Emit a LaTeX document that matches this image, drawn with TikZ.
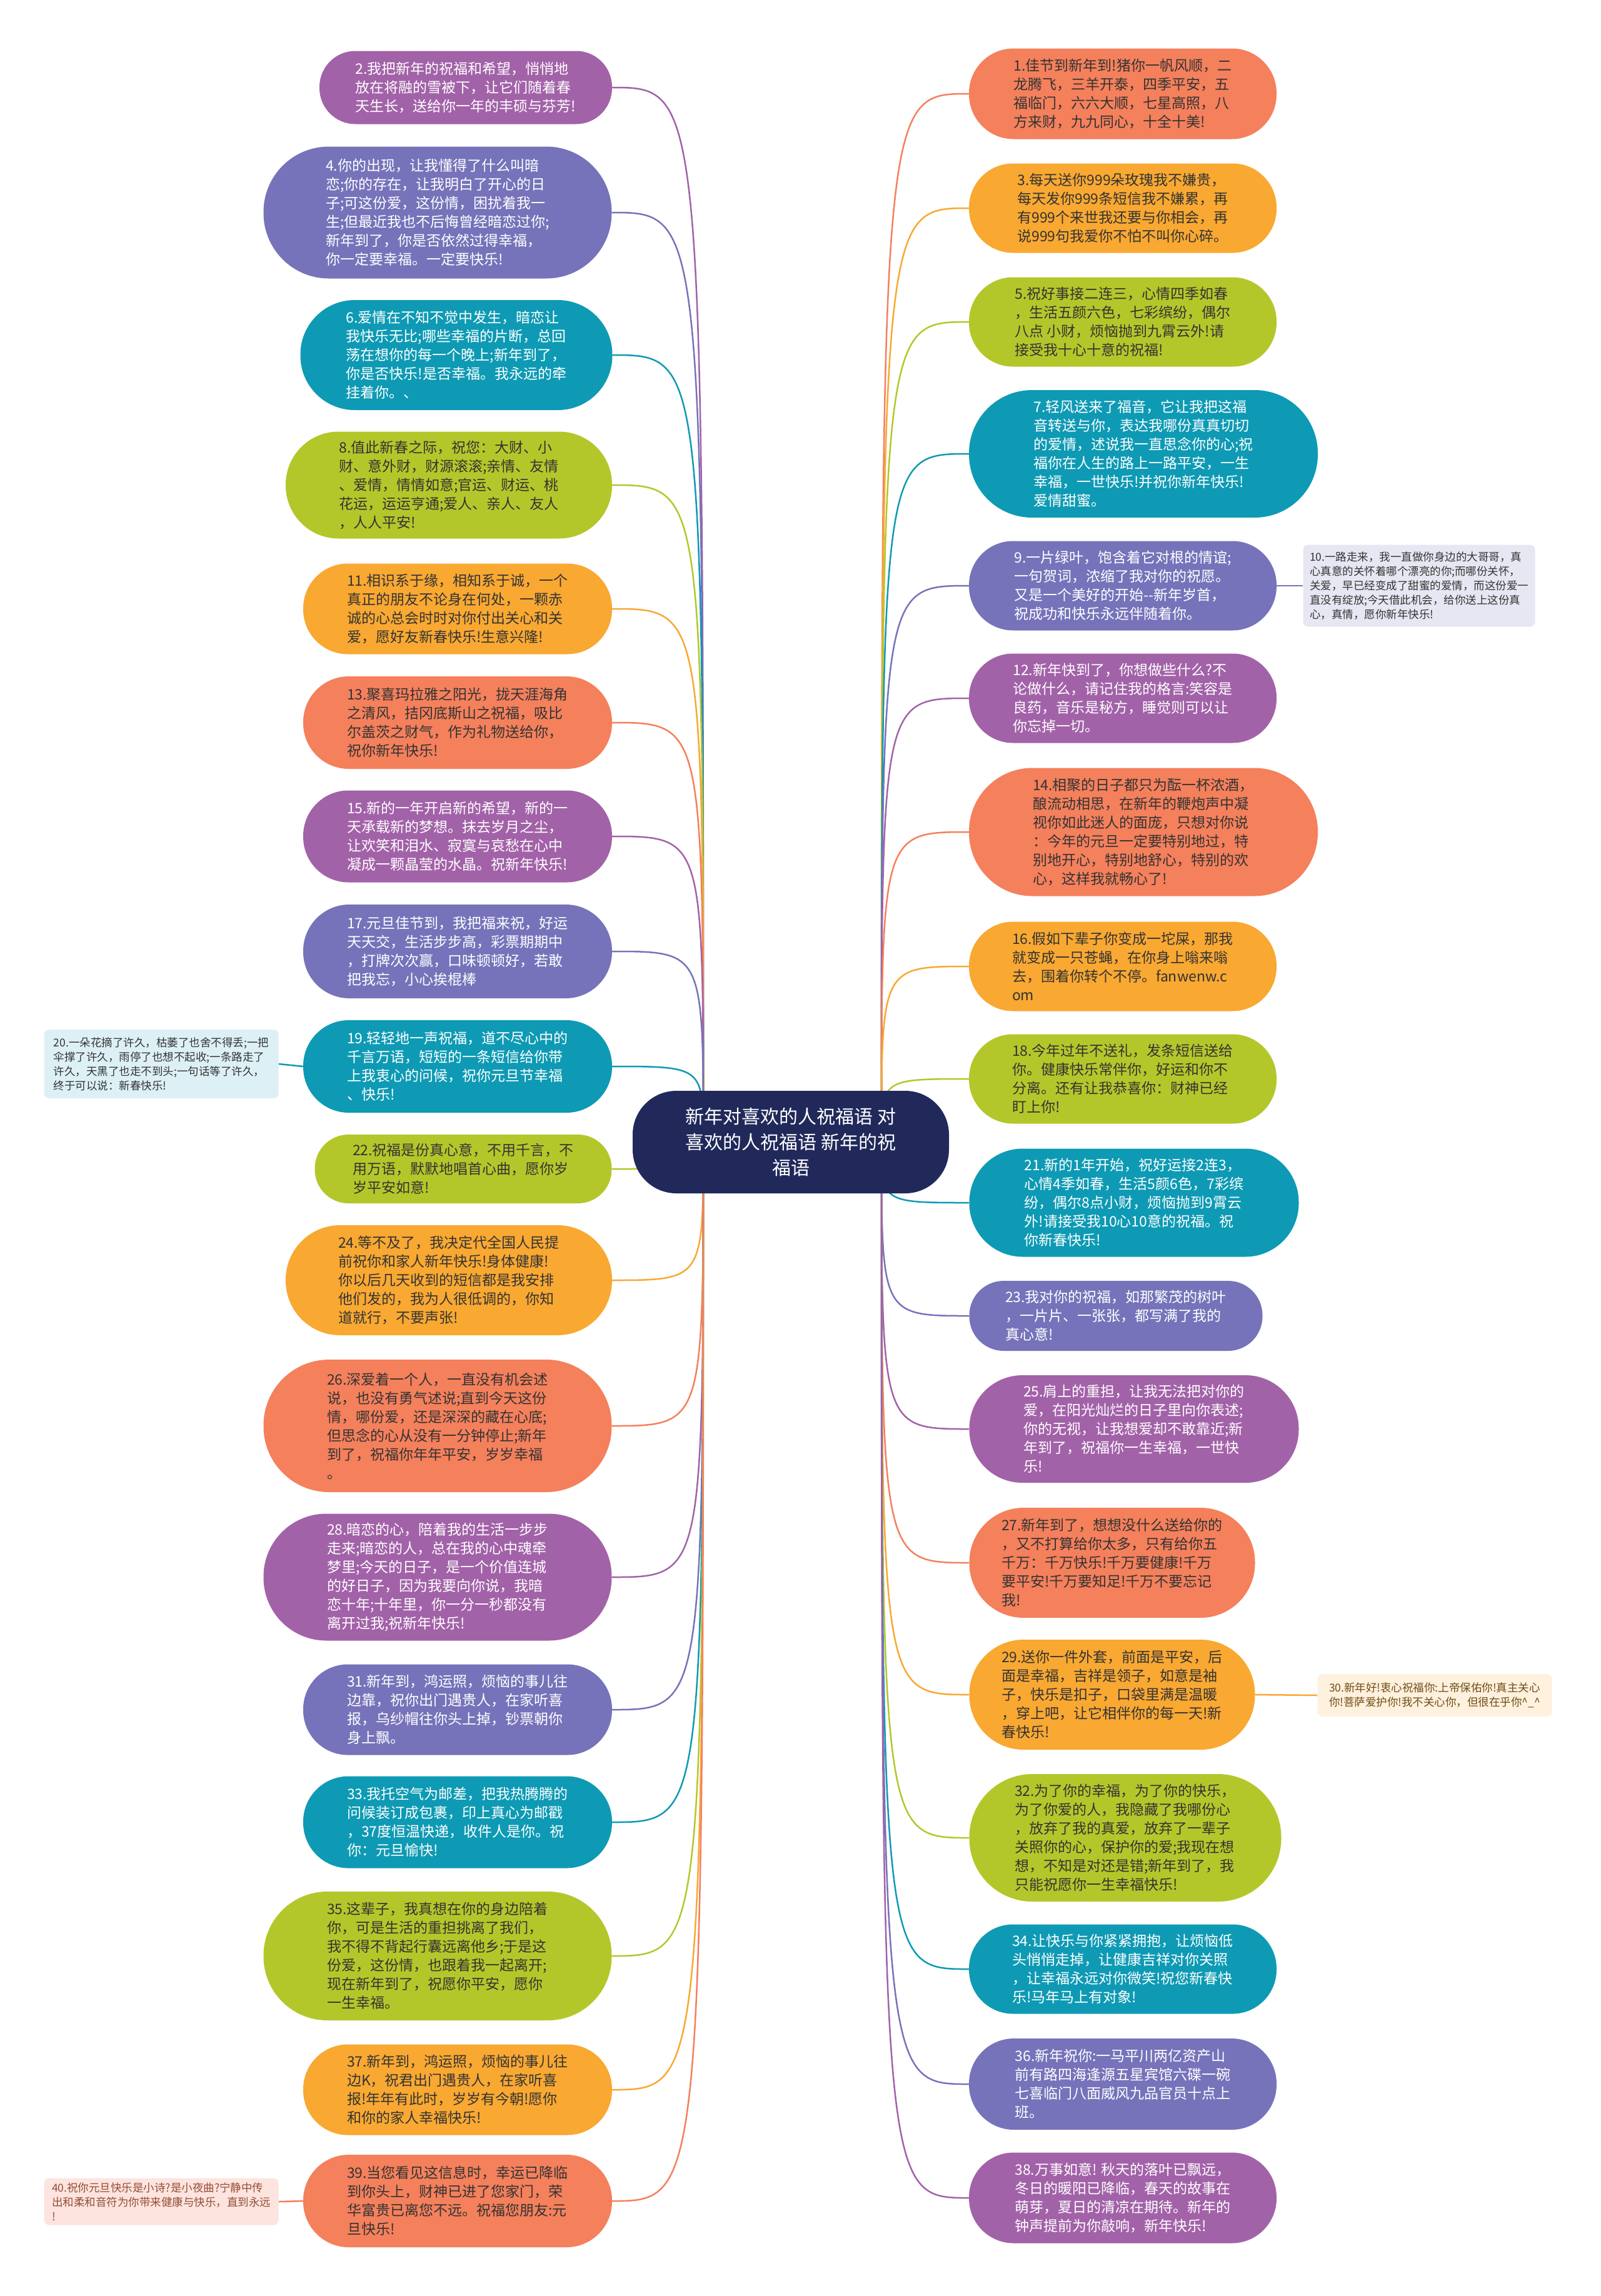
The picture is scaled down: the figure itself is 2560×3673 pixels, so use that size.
\documentclass[tikz,border=0pt]{standalone}
\usepackage{fontspec}
\setmainfont{Noto Sans CJK SC}
\usetikzlibrary{calc}
\pgfdeclarelayer{bg}
\pgfsetlayers{bg,main}
\definecolor{csal}{HTML}{F4805C}
\definecolor{corg}{HTML}{F9A832}
\definecolor{cgrn}{HTML}{B4C72A}
\definecolor{cteal}{HTML}{0E9AB4}
\definecolor{cind}{HTML}{7673BA}
\definecolor{cpur}{HTML}{A262A8}
\definecolor{cnavy}{HTML}{20295A}
\definecolor{cdark}{HTML}{333333}
\definecolor{sblue}{HTML}{DDF0F6}
\definecolor{spink}{HTML}{FDE4DE}
\definecolor{slav}{HTML}{E7E7F3}
\definecolor{scream}{HTML}{FEF1DD}
\tikzset{
  bubble/.style={inner sep=0pt, align=left, font=\fontsize{23}{30}\selectfont},
  sidebox/.style={inner sep=0pt, align=left, rounded corners=8pt, font=\fontsize{17.5}{23}\selectfont},
  link/.style={line width=2.5pt},
}
\newcommand\bub[8]{\node[bubble, fill=#6, text=#7, minimum width=#4pt, minimum height=#5pt, rounded corners=#5pt/2-1pt] (#1) at (#2,#3) {#8};}
\newcommand\lk[2]{\draw[link,#2] (L) .. controls (L |- #1.east) and (L |- #1.east) .. (#1.east);}
\newcommand\rk[2]{\draw[link,#2] (R) .. controls (R |- #1.west) and (R |- #1.west) .. (#1.west);}
\begin{document}
\begin{tikzpicture}[x=1pt,y=-1pt]
\useasboundingbox (0,0) rectangle (2560,3673);

% centre
\node[fill=cnavy, text=white, rounded corners=70pt, minimum width=506pt, minimum height=164pt, inner sep=0pt, align=center, font=\fontsize{30}{41}\selectfont] (n0) at (1265,1827) {新年对喜欢的人祝福语 对\\喜欢的人祝福语 新年的祝\\福语};
\coordinate (L) at ($(n0.center)+(-140,0)$);
\coordinate (R) at ($(n0.center)+(145,0)$);

% left column
\bub{n2}{745}{140}{468}{117}{cpur}{white}{2.我把新年的祝福和希望，悄悄地\\放在将融的雪被下，让它们随着春\\天生长，送给你一年的丰硕与芬芳!}
\bub{n4}{700}{340}{557}{211}{cind}{white}{4.你的出现，让我懂得了什么叫暗\\恋;你的存在，让我明白了开心的日\\子;可这份爱，这份情，困扰着我一\\生;但最近我也不后悔曾经暗恋过你;\\新年到了，你是否依然过得幸福，\\你一定要幸福。一定要快乐!}
\bub{n6}{730}{568}{499}{176}{cteal}{white}{6.爱情在不知不觉中发生，暗恋让\\我快乐无比;哪些幸福的片断，总回\\荡在想你的每一个晚上;新年到了，\\你是否快乐!是否幸福。我永远的牵\\挂着你。、}
\bub{n8}{718}{776}{522}{171}{cgrn}{cdark}{8.值此新春之际，祝您：大财、小\\财、意外财，财源滚滚;亲情、友情\\、爱情，情情如意;官运、财运、桃\\花运，运运亨通;爱人、亲人、友人\\，人人平安!}
\bub{n11}{732}{974}{494}{145}{corg}{cdark}{11.相识系于缘，相知系于诚，一个\\真正的朋友不论身在何处，一颗赤\\诚的心总会时时对你付出关心和关\\爱，愿好友新春快乐!生意兴隆!}
\bub{n13}{732}{1156}{494}{148}{csal}{cdark}{13.聚喜玛拉雅之阳光，拢天涯海角\\之清风，拮冈底斯山之祝福，吸比\\尔盖茨之财气，作为礼物送给你，\\祝你新年快乐!}
\bub{n15}{732}{1338}{494}{147}{cpur}{white}{15.新的一年开启新的希望，新的一\\天承载新的梦想。抹去岁月之尘，\\让欢笑和泪水、寂寞与哀愁在心中\\凝成一颗晶莹的水晶。祝新年快乐!}
\bub{n17}{732}{1522}{494}{150}{cind}{white}{17.元旦佳节到，我把福来祝，好运\\天天交，生活步步高，彩票期期中\\，打牌次次赢，口味顿顿好，若敢\\把我忘，小心挨棍棒}
\bub{n19}{732}{1706}{494}{148}{cteal}{white}{19.轻轻地一声祝福，道不尽心中的\\千言万语，短短的一条短信给你带\\上我衷心的问候，祝你元旦节幸福\\、快乐!}
\node[sidebox, fill=sblue, text=cdark, minimum width=375pt, minimum height=110pt] (n20) at (258,1702) {20.一朵花摘了许久，枯萎了也舍不得丢;一把\\伞撑了许久，雨停了也想不起收;一条路走了\\许久，天黑了也走不到头;一句话等了许久，\\终于可以说：新春快乐!};
\bub{n22}{741}{1870}{475}{110}{cgrn}{cdark}{22.祝福是份真心意，不用千言，不\\用万语，默默地唱首心曲，愿你岁\\岁平安如意!}
\bub{n24}{718}{2048}{522}{176}{corg}{cdark}{24.等不及了，我决定代全国人民提\\前祝你和家人新年快乐!身体健康!\\你以后几天收到的短信都是我安排\\他们发的，我为人很低调的，你知\\道就行，不要声张!}
\bub{n26}{700}{2281}{557}{212}{csal}{cdark}{26.深爱着一个人，一直没有机会述\\说，也没有勇气述说;直到今天这份\\情，哪份爱，还是深深的藏在心底;\\但思念的心从没有一分钟停止;新年\\到了，祝福你年年平安，岁岁幸福\\。}
\bub{n28}{700}{2523}{557}{203}{cpur}{white}{28.暗恋的心，陪着我的生活一步步\\走来;暗恋的人，总在我的心中魂牵\\梦里;今天的日子，是一个价值连城\\的好日子，因为我要向你说，我暗\\恋十年;十年里，你一分一秒都没有\\离开过我;祝新年快乐!}
\bub{n31}{732}{2735}{494}{145}{cind}{white}{31.新年到，鸿运照，烦恼的事儿往\\边靠，祝你出门遇贵人，在家听喜\\报，乌纱帽往你头上掉，钞票朝你\\身上飘。}
\bub{n33}{732}{2915}{494}{147}{cteal}{white}{33.我托空气为邮差，把我热腾腾的\\问候装订成包裹，印上真心为邮戳\\，37度恒温快递，收件人是你。祝\\你：元旦愉快!}
\bub{n35}{700}{3129}{557}{206}{cgrn}{cdark}{35.这辈子，我真想在你的身边陪着\\你，可是生活的重担挑离了我们，\\我不得不背起行囊远离他乡;于是这\\份爱，这份情，也跟着我一起离开;\\现在新年到了，祝愿你平安，愿你\\一生幸福。}
\bub{n37}{732}{3343}{494}{145}{corg}{cdark}{37.新年到，鸿运照，烦恼的事儿往\\边K，祝君出门遇贵人，在家听喜\\报!年年有此时，岁岁有今朝!愿你\\和你的家人幸福快乐!}
\bub{n39}{732}{3521}{494}{148}{csal}{cdark}{39.当您看见这信息时，幸运已降临\\到你头上，财神已进了您家门，荣\\华富贵已离您不远。祝福您朋友:元\\旦快乐!}
\node[sidebox, fill=spink, text=csal!60!black, minimum width=375pt, minimum height=75pt] (n40) at (258,3522) {40.祝你元旦快乐是小诗?是小夜曲?宁静中传\\出和柔和音符为你带来健康与快乐，直到永远\\!};

% right column
\bub{n1}{1796}{150}{492}{145}{csal}{cdark}{1.佳节到新年到!猪你一帆风顺，二\\龙腾飞，三羊开泰，四季平安，五\\福临门，六六大顺，七星高照，八\\方来财，九九同心，十全十美!}
\bub{n3}{1796}{333}{492}{143}{corg}{cdark}{3.每天送你999朵玫瑰我不嫌贵，\\每天发你999条短信我不嫌累，再\\有999个来世我还要与你相会，再\\说999句我爱你不怕不叫你心碎。}
\bub{n5}{1796}{515}{492}{143}{cgrn}{cdark}{5.祝好事接二连三，心情四季如春\\，生活五颜六色，七彩缤纷，偶尔\\八点 小财，烦恼抛到九霄云外!请\\接受我十心十意的祝福!}
\bub{n7}{1829}{726}{558}{204}{cteal}{white}{7.轻风送来了福音，它让我把这福\\音转送与你，表达我哪份真真切切\\的爱情，述说我一直思念你的心;祝\\福你在人生的路上一路平安，一生\\幸福，一世快乐!并祝你新年快乐!\\爱情甜蜜。}
\bub{n9}{1796}{937}{492}{143}{cind}{white}{9.一片绿叶，饱含着它对根的情谊;\\一句贺词，浓缩了我对你的祝愿。\\又是一个美好的开始-{}-新年岁首，\\祝成功和快乐永远伴随着你。}
\node[sidebox, fill=slav, text=cdark, minimum width=371pt, minimum height=131pt] (n10) at (2270,937) {10.一路走来，我一直做你身边的大哥哥，真\\心真意的关怀着哪个漂亮的你;而哪份关怀，\\关爱，早已经变成了甜蜜的爱情，而这份爱一\\直没有绽放;今天借此机会，给你送上这份真\\心，真情，愿你新年快乐!};
\bub{n12}{1796}{1117}{492}{143}{cpur}{white}{12.新年快到了，你想做些什么?不\\论做什么，请记住我的格言:笑容是\\良药，音乐是秘方，睡觉则可以让\\你忘掉一切。}
\bub{n14}{1829}{1331}{558}{205}{csal}{cdark}{14.相聚的日子都只为酝一杯浓酒，\\酿流动相思，在新年的鞭炮声中凝\\视你如此迷人的面庞，只想对你说\\：今年的元旦一定要特别地过，特\\别地开心，特别地舒心，特别的欢\\心，这样我就畅心了!}
\bub{n16}{1796}{1546}{492}{143}{corg}{cdark}{16.假如下辈子你变成一坨屎，那我\\就变成一只苍蝇，在你身上嗡来嗡\\去，围着你转个不停。fanwenw.c\\om}
\bub{n18}{1796}{1726}{492}{143}{cgrn}{cdark}{18.今年过年不送礼，发条短信送给\\你。健康快乐常伴你，好运和你不\\分离。还有让我恭喜你：财神已经\\盯上你!}
\bub{n21}{1814}{1924}{527}{173}{cteal}{white}{21.新的1年开始，祝好运接2连3，\\心情4季如春，生活5颜6色，7彩缤\\纷，偶尔8点小财，烦恼抛到9霄云\\外!请接受我10心10意的祝福。祝\\你新春快乐!}
\bub{n23}{1785}{2105}{469}{112}{cind}{white}{23.我对你的祝福，如那繁茂的树叶\\，一片片、一张张，都写满了我的\\真心意!}
\bub{n25}{1814}{2286}{527}{172}{cpur}{white}{25.肩上的重担，让我无法把对你的\\爱，在阳光灿烂的日子里向你表述;\\你的无视，让我想爱却不敢靠近;新\\年到了，祝福你一生幸福，一世快\\乐!}
\bub{n27}{1779}{2500}{457}{176}{csal}{cdark}{27.新年到了，想想没什么送给你的\\，又不打算给你太多，只有给你五\\千万：千万快乐!千万要健康!千万\\要平安!千万要知足!千万不要忘记\\我!}
\bub{n29}{1779}{2711}{457}{176}{corg}{cdark}{29.送你一件外套，前面是平安，后\\面是幸福，吉祥是领子，如意是袖\\子，快乐是扣子，口袋里满是温暖\\，穿上吧，让它相伴你的每一天!新\\春快乐!}
\node[sidebox, fill=scream, text=corg!45!black, minimum width=375pt, minimum height=68pt] (n30) at (2295,2712) {30.新年好!衷心祝福你:上帝保佑你!真主关心\\你!菩萨爱护你!我不关心你，但很在乎你\textasciicircum\_\textasciicircum};
\bub{n32}{1800}{2940}{499}{204}{cgrn}{cdark}{32.为了你的幸福，为了你的快乐，\\为了你爱的人，我隐藏了我哪份心\\，放弃了我的真爱，放弃了一辈子\\关照你的心，保护你的爱;我现在想\\想，不知是对还是错;新年到了，我\\只能祝愿你一生幸福快乐!}
\bub{n34}{1796}{3150}{492}{143}{cteal}{white}{34.让快乐与你紧紧拥抱，让烦恼低\\头悄悄走掉，让健康吉祥对你关照\\，让幸福永远对你微笑!祝您新春快\\乐!马年马上有对象!}
\bub{n36}{1796}{3334}{492}{146}{cind}{white}{36.新年祝你:一马平川两亿资产山\\前有路四海逢源五星宾馆六碟一碗\\七喜临门八面威风九品官员十点上\\班。}
\bub{n38}{1796}{3516}{492}{145}{cpur}{white}{38.万事如意! 秋天的落叶已飘远，\\冬日的暖阳已降临，春天的故事在\\萌芽，夏日的清凉在期待。新年的\\钟声提前为你敲响，新年快乐!}

\begin{pgfonlayer}{bg}
\fill[white] (0,0) rectangle (2560,3673);
\lk{n2}{cpur}\lk{n4}{cind}\lk{n6}{cteal}\lk{n8}{cgrn}\lk{n11}{corg}\lk{n13}{csal}
\lk{n15}{cpur}\lk{n17}{cind}\lk{n19}{cteal}\lk{n22}{cgrn}\lk{n24}{corg}\lk{n26}{csal}
\lk{n28}{cpur}\lk{n31}{cind}\lk{n33}{cteal}\lk{n35}{cgrn}\lk{n37}{corg}\lk{n39}{csal}
\rk{n1}{csal}\rk{n3}{corg}\rk{n5}{cgrn}\rk{n7}{cteal}\rk{n9}{cind}\rk{n12}{cpur}
\rk{n14}{csal}\rk{n16}{corg}\rk{n18}{cgrn}\rk{n21}{cteal}\rk{n23}{cind}\rk{n25}{cpur}
\rk{n27}{csal}\rk{n29}{corg}\rk{n32}{cgrn}\rk{n34}{cteal}\rk{n36}{cind}\rk{n38}{cpur}
\draw[link,cteal] (n19.west) -- (n20.east);
\draw[link,csal] (n39.west) -- (n40.east);
\draw[link,cind] (n9.east) -- (n10.west);
\draw[link,corg] (n29.east) -- (n30.west);
\end{pgfonlayer}
\end{tikzpicture}
\end{document}
